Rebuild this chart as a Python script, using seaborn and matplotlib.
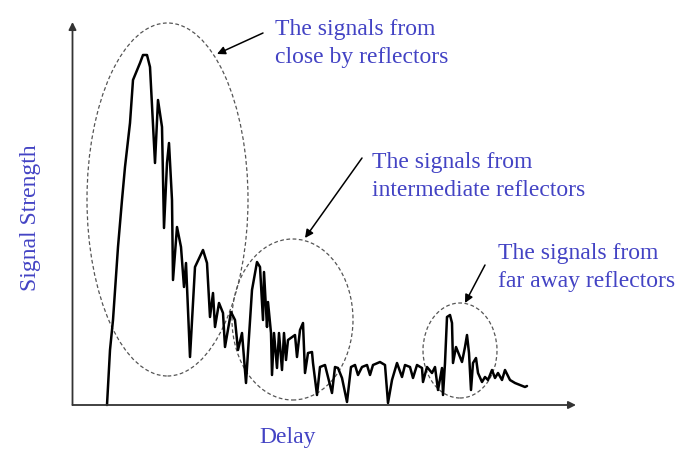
import matplotlib
matplotlib.use("Agg")
import matplotlib.pyplot as plt
from matplotlib.patches import Ellipse
import seaborn as sns
import pandas as pd

# Signal trace (delay and strength in picture pixels)
delay = [
    107, 110, 113, 118, 122, 125, 130, 133, 140, 143, 147, 150, 155, 158, 162,
    164, 167, 169, 172, 173, 177, 181, 184, 186, 190, 195, 203, 207, 210, 213,
    215, 219, 223, 225, 231, 235, 238, 242, 246, 252, 257, 260, 263, 264, 267,
    268, 271, 272, 274, 277, 279, 282, 284, 286, 288, 295, 297, 300, 303, 305,
    308, 312, 313, 317, 320, 325, 328, 332, 335, 338, 342, 347, 351, 355, 358,
    362, 367, 370, 373, 380, 385, 388, 392, 397, 402, 405, 410, 413, 417, 422,
    423, 427, 432, 435, 438, 442, 443, 445, 447, 450, 452, 453, 456, 458, 462,
    465, 467, 469, 471, 473, 476, 478, 482, 485, 488, 492, 495, 498, 502, 505,
    510, 515, 520, 525, 527,
]
strength = [
    0, 55, 85, 158, 205, 238, 282, 325, 342, 350, 350, 338, 242, 305, 278,
    177, 242, 262, 205, 125, 178, 158, 118, 142, 48, 138, 155, 142, 88, 112,
    78, 102, 92, 58, 93, 85, 55, 72, 22, 115, 143, 138, 85, 133, 78,
    103, 72, 30, 72, 37, 72, 35, 72, 45, 65, 70, 48, 75, 82, 32,
    52, 53, 42, 10, 38, 40, 28, 12, 38, 37, 27, 3, 38, 40, 30,
    38, 40, 30, 40, 43, 40, 2, 25, 42, 28, 40, 38, 27, 40, 37,
    23, 38, 32, 38, 15, 37, 10, 42, 88, 90, 82, 42, 58, 53, 43,
    58, 70, 52, 15, 42, 47, 32, 23, 28, 25, 35, 27, 32, 25, 35,
    25, 22, 20, 18, 19,
]
assert len(delay) == len(strength)

# Dashed groups: centre x, centre y, width, height
group_x = [167.5, 292.5, 460]
group_y = [205.5, 85.5, 54.5]
group_w = [161, 121, 74]
group_h = [353, 161, 95]

# Annotation labels and arrows
labels = [
    ["The signals from", "close by reflectors"],
    ["The signals from", "intermediate reflectors"],
    ["The signals from", "far away reflectors"],
]
label_x = [275, 372, 498]
label_y = [370, 237, 146]
arrow_tail = [(263, 372), (362, 247), (485, 140)]
arrow_head = [(217, 351), (305, 167), (465, 102)]

blue = "#4343c4"

sns.set_style("white")
plt.rcParams["font.family"] = ["Liberation Serif", "DejaVu Serif"]

fig = plt.figure(figsize=(6.84, 4.54), dpi=100)
ax = fig.add_axes([0, 0, 1, 1])
ax.set_xlim(0, 684)
ax.set_ylim(-49, 405)
ax.axis("off")

df = pd.DataFrame({"Delay": delay, "Signal Strength": strength})
sns.lineplot(data=df, x="Delay", y="Signal Strength", color="black",
             linewidth=1.8, sort=False, ax=ax,
             solid_joinstyle="round", solid_capstyle="round")

# axes with arrow heads
ax.annotate("", xy=(576, 0), xytext=(72.5, 0),
            arrowprops=dict(arrowstyle="-|>", color="#333333", lw=1.3,
                            mutation_scale=11, shrinkA=0, shrinkB=0))
ax.annotate("", xy=(72.5, 383), xytext=(72.5, 0),
            arrowprops=dict(arrowstyle="-|>", color="#333333", lw=1.3,
                            mutation_scale=11, shrinkA=0, shrinkB=0))

for cx, cy, w, h in zip(group_x, group_y, group_w, group_h):
    ax.add_patch(Ellipse((cx, cy), w, h, fill=False, edgecolor="#555555",
                         lw=0.9, linestyle=(0, (3, 2))))

for lines, lx, ly, tail, head in zip(labels, label_x, label_y, arrow_tail, arrow_head):
    for i, line in enumerate(lines):
        ax.text(lx, ly - 28 * i, line, color=blue, fontsize=17, va="baseline", ha="left")
    ax.annotate("", xy=head, xytext=tail,
                arrowprops=dict(arrowstyle="-|>", color="black", lw=1.1,
                                mutation_scale=12, shrinkA=0, shrinkB=0))

ax.text(259, -38, "Delay", color=blue, fontsize=17, va="baseline", ha="left")
ax.text(31, 187, "Signal Strength", color=blue, fontsize=17, rotation=90,
        va="center", ha="center")

fig.savefig("out.png", dpi=100)
